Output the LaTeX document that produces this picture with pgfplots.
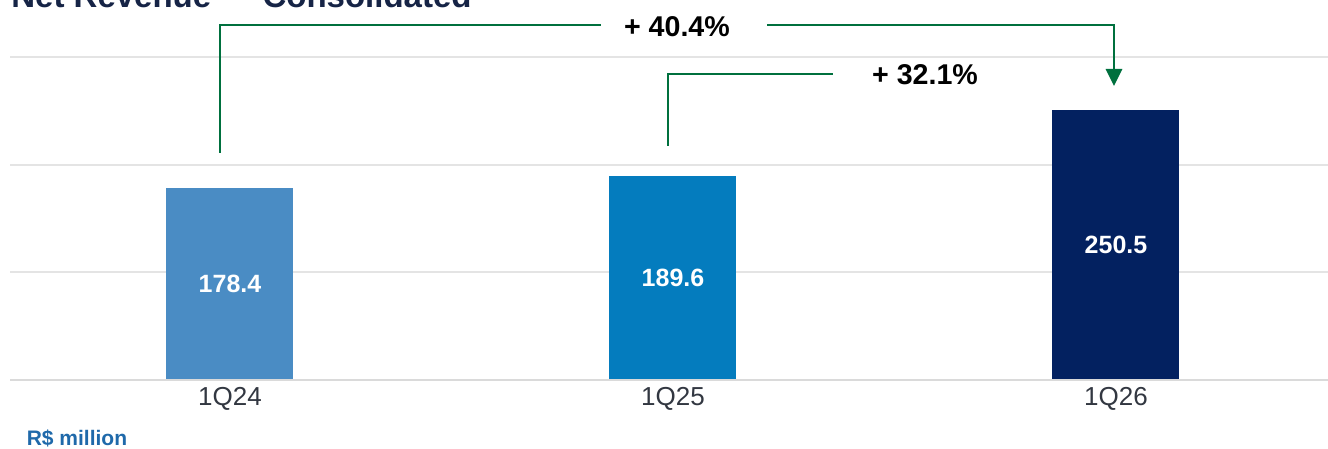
\documentclass[border=0pt]{standalone}
\usepackage{pgfplots}
\pgfplotsset{compat=1.18}
\usepackage{fontspec}
\setmainfont{Liberation Sans}
\usetikzlibrary{arrows.meta}

\definecolor{barA}{RGB}{74,140,196}
\definecolor{barB}{RGB}{4,124,190}
\definecolor{barC}{RGB}{3,33,96}
\definecolor{arrowgreen}{RGB}{0,112,62}
\definecolor{gridgray}{RGB}{228,228,228}
\definecolor{ticktext}{RGB}{50,55,65}
\definecolor{unitblue}{RGB}{31,105,170}
\definecolor{titlenavy}{RGB}{22,36,70}

\begin{document}
\begin{tikzpicture}
\clip (-5pt,-34.5pt) rectangle (659pt,190pt);
\begin{axis}[
    at={(0,0)}, anchor=south west,
    scale only axis,
    width=659pt, height=190pt,
    xmin=-0.4966, xmax=2.4786,
    ymin=0, ymax=352.83,
    axis line style={draw=none},
    ybar, bar width=63.5pt, bar shift=0pt,
    xtick={0,1,2},
    xticklabels={1Q24,1Q25,1Q26},
    ytick={100,200,300},
    yticklabels={},
    ymajorgrids,
    major grid style={draw=gridgray, line width=1pt},
    major tick length=0pt,
    xticklabel style={font=\fontsize{13}{15}\selectfont, text=ticktext},
    clip=false,
]
\addplot[draw=none, fill=barA] coordinates {(0,178.4)};
\addplot[draw=none, fill=barB] coordinates {(1,189.6)};
\addplot[draw=none, fill=barC] coordinates {(2,250.5)};

% value labels, centred in each bar
\addplot[only marks, mark=none, nodes near coords, point meta=explicit symbolic,
  nodes near coords style={anchor=center, text=white,
    font=\bfseries\fontsize{12.5}{14}\selectfont}]
  coordinates {(0,89.2)[178.4] (1,94.8)[189.6] (2,125.25)[250.5]};

% baseline
\draw[draw=gridgray!90!gray, line width=1.2pt] (axis cs:-0.4966,0) -- (axis cs:2.4786,0);

% growth brackets
\draw[arrowgreen, line width=1.35pt]
  (axis cs:-0.02257,210.77) -- (axis cs:-0.02257,329.6) -- (axis cs:0.8375,329.6);
\draw[arrowgreen, line width=1.35pt, -{Triangle[width=8pt,length=8.5pt]}]
  (axis cs:1.2122,329.6) -- (axis cs:1.9955,329.6) -- (axis cs:1.9955,272.98);
\node[font=\bfseries\fontsize{14.3}{16}\selectfont] at (axis cs:1.009,327.76) {+ 40.4\%};

\draw[arrowgreen, line width=1.35pt]
  (axis cs:0.98871,217.27) -- (axis cs:0.98871,284.12) -- (axis cs:1.3612,284.12);
\node[font=\bfseries\fontsize{14.3}{16}\selectfont] at (axis cs:1.5689,283.2) {+ 32.1\%};

% title (cut off at the top in the reference)
\node[anchor=base west, inner sep=0pt, text=titlenavy,
  font=\bfseries\fontsize{16.5}{18}\selectfont] at (axis cs:-0.4944,345.4)
  {Net Revenue — Consolidated};

% unit note
\node[text=unitblue, font=\bfseries\fontsize{10.5}{12}\selectfont]
  at (axis cs:-0.3454,-53.85) {R\$ million};
\end{axis}
\end{tikzpicture}
\end{document}
